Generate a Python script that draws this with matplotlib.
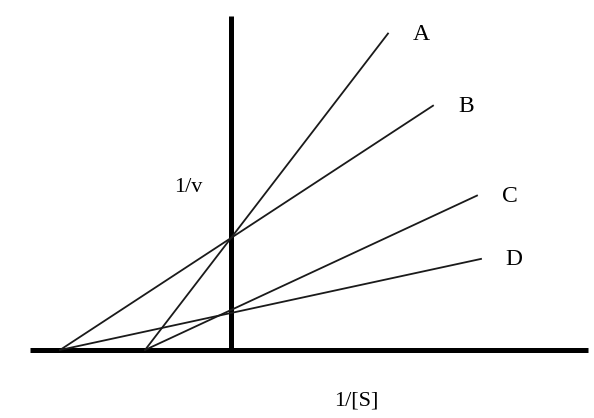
import matplotlib.pyplot as plt

# Lineweaver-Burk sketch, arbitrary units
names = ['A', 'B', 'C', 'D']
x_int = [-0.86, -1.71, -0.86, -1.71]   # -1/Km
y_int = [1.12, 1.12, 0.40, 0.37]       # 1/Vmax
x_end = [1.57, 2.02, 2.46, 2.50]

fig = plt.figure(figsize=(5.94, 4.18), dpi=100)
ax = fig.add_axes([0, 0, 1, 1])
ax.set_xlim(-2.31, 3.63)
ax.set_ylim(-0.68, 3.50)
ax.axis('off')

# axes
ax.plot([-2.01, 3.57], [0, 0], color='black', lw=3.6, solid_capstyle='butt')
ax.plot([0, 0], [-0.02, 3.34], color='black', lw=3.6, solid_capstyle='butt')

for n, x0, y0, x1 in zip(names, x_int, y_int, x_end):
    slope = -y0 / x0
    ax.plot([x0, x1], [0, y0 + slope * x1], color='#1a1a1a', lw=1.3)
    ax.text(x1 + 0.33, y0 + slope * x1 - 0.01, n, fontsize=17,
            family='Liberation Serif', ha='center', va='center')

ax.text(-0.43, 1.63, '1/v', fontsize=16, family='Liberation Serif',
        ha='center', va='center')
ax.text(1.25, -0.51, '1/[S]', fontsize=16, family='Liberation Serif',
        ha='center', va='center')

plt.savefig('out.png', dpi=100)
